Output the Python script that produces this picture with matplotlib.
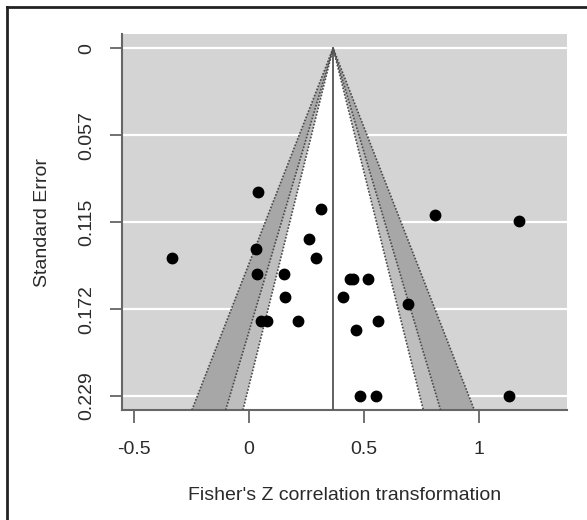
import numpy as np
import matplotlib
matplotlib.use('Agg')
import matplotlib.pyplot as plt

plt.rcParams['font.family'] = ['Liberation Sans', 'DejaVu Sans']
plt.rcParams['axes.unicode_minus'] = False

# study effects (Fisher's z) and standard errors
z_vals = [0.041, 0.315, 0.807, 1.174, 0.259, 0.031, -0.336, 0.290, 0.034, 0.154,
          0.441, 0.454, 0.518, 0.156, 0.408, 0.690, 0.054, 0.080, 0.215, 0.561,
          0.467, 0.482, 0.552, 1.131]
se_vals = [0.0950, 0.1058, 0.1102, 0.1137, 0.1258, 0.1320, 0.1384, 0.1384, 0.1488, 0.1488,
           0.1523, 0.1523, 0.1523, 0.1642, 0.1642, 0.1686, 0.1794, 0.1794, 0.1794, 0.1794,
           0.1856, 0.2292, 0.2292, 0.2292]
estimate = 0.366
se_max = 0.2292
contour_z = [2.576, 1.960, 1.645]   # 99%, 95%, 90%
contour_cols = ['#a7a7a7', '#bebebe', 'white']
xticks = [-0.5, 0, 0.5, 1]
xtick_labels = ['-0.5', '0', '0.5', '1']
yticks = [0, se_max / 4, se_max / 2, 3 * se_max / 4, se_max]
ytick_labels = ['0', '0.057', '0.115', '0.172', '0.229']

W, H = 587, 520
fig = plt.figure(figsize=(W / 100, H / 100), dpi=100)
ax = fig.add_axes([122 / W, (H - 410) / H, (567 - 122) / W, (410 - 34.3) / H])
ax.set_facecolor('#d4d4d4')

ybot = se_max * 1.04
ytop = -se_max * 0.04
ax.set_xlim(-0.552, 1.383)
ax.set_ylim(ybot, ytop)

for y in yticks:
    ax.axhline(y, color='white', lw=1.6, zorder=1)

for zc, col in zip(contour_z, contour_cols):
    xs = [estimate - zc * ybot, estimate, estimate + zc * ybot]
    ys = [ybot, 0, ybot]
    ax.fill(xs, ys, color=col, lw=0, zorder=2)
for zc in contour_z:
    ax.plot([estimate - zc * ybot, estimate, estimate + zc * ybot], [ybot, 0, ybot],
            color='#4a4a4a', lw=1.2, ls=(0, (1, 1)), zorder=3)

ax.plot([estimate, estimate], [0, ybot], color='#555555', lw=1.3, zorder=3)
ax.plot(z_vals, se_vals, 'o', color='black', ms=7.5, zorder=4)

for s in ['top', 'right']:
    ax.spines[s].set_visible(False)
for s in ['left', 'bottom']:
    ax.spines[s].set_color('#666666')
    ax.spines[s].set_linewidth(1.5)

ax.set_xticks(xticks)
ax.set_xticklabels(xtick_labels)
ax.set_yticks(yticks)
ax.set_yticklabels(ytick_labels, rotation=90, va='center')
ax.tick_params(axis='both', length=9, width=1.3, color='#666666', direction='out',
               labelsize=14, labelcolor='#2a2a2a')
ax.tick_params(axis='x', pad=13)
ax.tick_params(axis='y', pad=10)

ax.set_xlabel("Fisher's Z correlation transformation", fontsize=14, color='#2a2a2a', labelpad=21)
ax.set_ylabel('Standard Error', fontsize=14, color='#2a2a2a', labelpad=20)

# partial frame (left and top edges)
fig.add_artist(plt.Line2D([7 / W, 7 / W], [0, 1 - 7 / H], color='#222222', lw=2,
                          transform=fig.transFigure))
fig.add_artist(plt.Line2D([7 / W, 1], [1 - 7 / H, 1 - 7 / H], color='#222222', lw=2,
                          transform=fig.transFigure))

fig.savefig('out.png', dpi=100, facecolor='white')
